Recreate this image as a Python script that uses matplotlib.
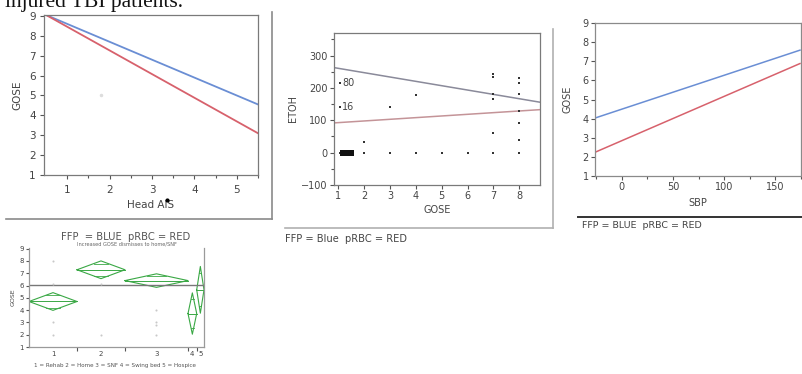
import numpy as np
import matplotlib.pyplot as plt
from matplotlib.lines import Line2D

W, H = 803, 374

# panel 1: GOSE vs head AIS (fitted lines)
ais_x = [0.5, 5.5]
ais_ffp = [9.05, 4.55]
ais_prbc = [9.05, 3.1]
ais_pt = (1.8, 5.05)

# panel 2: ETOH vs GOSE
etoh_line_x = [0.83, 8.8]
etoh_ffp = [263, 156]
etoh_prbc = [92, 133]
etoh_gose = [1.07, 2, 2, 3, 3, 4, 4, 5, 6,
             7, 7, 7, 7, 7, 7,
             8, 8, 8, 8, 8, 8, 8]
etoh_vals = [0, 32, 0, 140, 0, 178, 0, 0, 0,
             244, 234, 180, 166, 62, 0,
             232, 214, 180, 128, 93, 39, 0]
sq_gose = [1.19, 1.33, 1.47]
sq_etoh = [0, 0, 0]
lab_gose = [1.07, 1.07]
lab_etoh = [214, 140]
lab_text = ['80', '16']

# panel 3: GOSE vs SBP (fitted lines)
sbp_x = [-26, 174]
sbp_ffp = [4.03, 7.58]
sbp_prbc = [2.24, 6.88]

# panel 4: GOSE by disposition (means diamonds)
dispo_labels = ['1', '2', '3', '4', '5']
dispo_width = [48, 48, 63, 8.7, 7.3]
dispo_mean = [4.7, 7.28, 6.4, 3.72, 5.65]
dispo_ci = [0.72, 0.72, 0.55, 1.68, 1.9]
grand_mean = 6.08
dispo_pt_grp = [0, 0, 0, 0, 1, 1, 2, 2, 2, 2]
dispo_pt_val = [8.0, 6.1, 3.05, 1.97, 6.1, 1.97, 4.03, 3.05, 2.8, 1.97]

BLUE = '#6a8ed4'
RED = '#d7616c'
GREEN = '#3aa845'
TXT = '#444444'


def px_axes(fig, l, t, r, b):
    return fig.add_axes([l / W, 1 - b / H, (r - l) / W, (b - t) / H])


def style(ax, spine='#888888', fs=7):
    for s in ax.spines.values():
        s.set_color(spine)
        s.set_linewidth(0.9)
    ax.tick_params(which='both', direction='out', colors='#555555',
                   labelcolor=TXT, labelsize=fs, length=3, width=0.8, pad=1.5)
    ax.tick_params(which='minor', length=2)


def fline(fig, x0, y0, x1, y1, c, lw):
    fig.add_artist(Line2D([x0 / W, x1 / W], [1 - y0 / H, 1 - y1 / H],
                          transform=fig.transFigure, color=c, lw=lw))


fig = plt.figure(figsize=(W / 100, H / 100), dpi=100)
fig.patch.set_facecolor('white')

# heading text cut at top
fig.text(5 / W, 1 - 7 / H, 'injured TBI patients.', family='Liberation Serif',
         fontsize=15.5, color='#111111', va='baseline', ha='left')

# ---- panel 1
ax1 = px_axes(fig, 44, 15, 258, 175)
ax1.plot(ais_x, ais_ffp, color=BLUE, lw=1.3)
ax1.plot(ais_x, ais_prbc, color=RED, lw=1.3)
ax1.plot([ais_pt[0]], [ais_pt[1]], 'o', ms=1.5, color='#dddddd')
ax1.set_xlim(0.45, 5.5)
ax1.set_ylim(1, 9.05)
ax1.set_xticks([1, 2, 3, 4, 5])
ax1.set_xticks(np.arange(1.5, 5.6, 0.5), minor=True)
ax1.set_yticks(range(1, 10))
style(ax1, spine='#7a7a7a', fs=7.5)
ax1.tick_params(axis='x', which='major', pad=4)
ax1.tick_params(axis='y', which='major', pad=3)
ax1.set_xlabel('Head AIS', fontsize=7.5, color=TXT, labelpad=4)
ax1.set_ylabel('GOSE', fontsize=7.5, color=TXT, labelpad=5)
fig.add_artist(Line2D([167 / W], [1 - 200 / H], marker='o', ms=2,
                      color='black', transform=fig.transFigure))
fline(fig, 6, 219, 272, 219, '#8a8a8a', 1.2)
fline(fig, 272, 12, 272, 219, '#8a8a8a', 1.2)

# ---- panel 2
ax2 = px_axes(fig, 334, 33, 540, 185)
ax2.plot(etoh_line_x, etoh_ffp, color='#8a8a9a', lw=1.1)
ax2.plot(etoh_line_x, etoh_prbc, color='#c49498', lw=1.1)
ax2.plot(etoh_gose, etoh_vals, 's', ms=1.6, color='#333333', mew=0)
ax2.plot(sq_gose, sq_etoh, 's', ms=4.2, color='#111111', mew=0)
ax2.plot(lab_gose, lab_etoh, 's', ms=1.8, color='#333333', mew=0)
for gx, ev, tx in zip(lab_gose, lab_etoh, lab_text):
    ax2.text(gx + 0.08, ev, tx, fontsize=7, color=TXT, va='center', ha='left')
ax2.set_xlim(0.83, 8.8)
ax2.set_ylim(-100, 370)
ax2.set_xticks(range(1, 9))
ax2.set_yticks([-100, 0, 100, 200, 300])
ax2.set_yticks([-50, 50, 150, 250, 350], minor=True)
style(ax2, spine='#7a7a7a', fs=7)
ax2.set_xlabel('GOSE', fontsize=7, color=TXT, labelpad=3)
ax2.set_ylabel('ETOH', fontsize=7, color=TXT, labelpad=2)
fline(fig, 285, 228, 553, 228, '#b0b0b0', 1.2)
fline(fig, 553, 29, 553, 228, '#b0b0b0', 1.2)
fig.text(285 / W, 1 - 239 / H, 'FFP = Blue  pRBC = RED', fontsize=7.1,
         color=TXT, va='center', ha='left')

# ---- panel 3
ax3 = px_axes(fig, 595, 23, 801, 176)
ax3.plot(sbp_x, sbp_ffp, color=BLUE, lw=1.1)
ax3.plot(sbp_x, sbp_prbc, color=RED, lw=1.1)
ax3.set_xlim(-26, 174)
ax3.set_ylim(1, 9)
ax3.set_xticks([0, 50, 100, 150])
ax3.set_xticks([-25, 25, 75, 125, 175], minor=True)
ax3.set_yticks(range(1, 10))
style(ax3, spine='#8a8a8a', fs=7)
ax3.set_xlabel('SBP', fontsize=7, color=TXT, labelpad=4)
ax3.set_ylabel('GOSE', fontsize=7, color=TXT, labelpad=7)
fline(fig, 578, 216.5, 803, 216.5, '#333333', 1.4)
fig.text(582 / W, 1 - 226 / H, 'FFP = BLUE  pRBC = RED', fontsize=6.8,
         color=TXT, va='center', ha='left')

# ---- panel 4
ax4 = px_axes(fig, 29, 248, 204, 347)
edges = np.concatenate([[0], np.cumsum(dispo_width)])
centers = (edges[:-1] + edges[1:]) / 2
for i in range(len(dispo_width)):
    x0, x1, xc = edges[i], edges[i + 1], centers[i]
    m, h = dispo_mean[i], dispo_ci[i]
    ax4.plot([x0, xc, x1, xc, x0], [m, m + h, m, m - h, m], color=GREEN, lw=0.8)
    ax4.plot([x0, x1], [m, m], color=GREEN, lw=0.7)
    d = h / np.sqrt(2)
    hw = (x1 - x0) / 2 * (1 - d / h)
    for s in (1, -1):
        ax4.plot([xc - hw, xc + hw], [m + s * d, m + s * d], color=GREEN, lw=0.6)
ax4.axhline(grand_mean, color='#777777', lw=1.0)
ax4.plot(centers[dispo_pt_grp], dispo_pt_val, 'o', ms=1.5, color='#c8c8c8', mew=0)
ax4.set_xlim(edges[0], edges[-1])
ax4.set_ylim(1, 9.05)
ax4.set_xticks(centers)
ax4.set_xticklabels(dispo_labels)
ax4.set_xticks(edges[1:-1], minor=True)
ax4.set_yticks(range(1, 10))
style(ax4, spine='#9a9a9a', fs=5)
ax4.tick_params(which='major', axis='x', length=0, pad=3)
ax4.tick_params(which='minor', axis='x', length=3)
ax4.tick_params(axis='y', length=2)
ax4.spines['top'].set_visible(False)
ax4.set_ylabel('GOSE', fontsize=4.5, color=TXT, labelpad=3)
fig.text(126 / W, 1 - 237 / H, 'FFP  = BLUE  pRBC = RED', fontsize=7.2,
         color='#555555', va='center', ha='center')
fig.text(127 / W, 1 - 244.5 / H, 'Increased GOSE dismisses to home/SNF',
         fontsize=3.6, color='#666666', va='center', ha='center')
fig.text(115 / W, 1 - 365 / H,
         '1 = Rehab 2 = Home 3 = SNF 4 = Swing bed 5 = Hospice',
         fontsize=4.1, color='#555555', va='center', ha='center')

fig.savefig('out.png', dpi=100)
